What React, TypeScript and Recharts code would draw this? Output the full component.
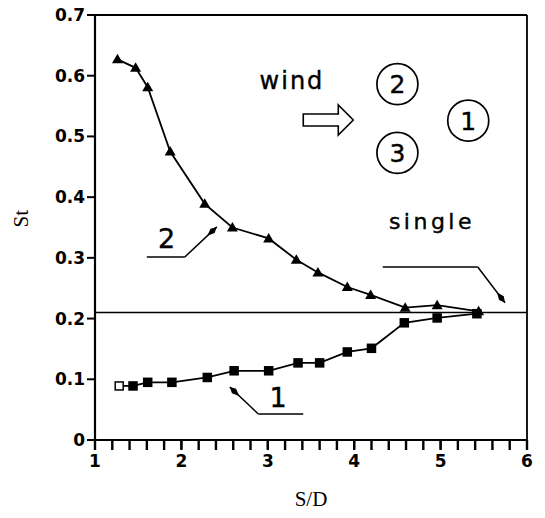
import React from 'react'
import {
  ComposedChart,
  Scatter,
  XAxis,
  YAxis,
  ReferenceLine,
  ReferenceDot,
} from 'recharts'

// cylinder 1 (squares) and cylinder 2 (triangles), Strouhal number vs spacing
const sd1 = [1.28, 1.44, 1.61, 1.89, 2.3, 2.61, 3.01, 3.35, 3.6, 3.92, 4.2, 4.58, 4.96, 5.42]
const st1 = [0.089, 0.089, 0.095, 0.095, 0.103, 0.114, 0.114, 0.127, 0.127, 0.145, 0.151, 0.193, 0.201, 0.208]

const sd2 = [1.26, 1.47, 1.61, 1.87, 2.27, 2.59, 3.01, 3.33, 3.58, 3.92, 4.19, 4.59, 4.96, 5.44]
const st2 = [0.627, 0.613, 0.581, 0.475, 0.389, 0.35, 0.332, 0.297, 0.276, 0.252, 0.239, 0.218, 0.222, 0.212]

const singleSt = 0.21

const xLabels = [1, 2, 3, 4, 5, 6]
const xMinor = [1, 1.2, 1.4, 1.6, 1.8, 2, 2.2, 2.4, 2.6, 2.8, 3, 3.2, 3.4, 3.6, 3.8, 4, 4.2, 4.4, 4.6, 4.8, 5, 5.2, 5.4, 5.6, 5.8, 6]
const yTicks = [0, 0.1, 0.2, 0.3, 0.4, 0.5, 0.6, 0.7]

const series1 = sd1.map((sd, i) => ({ sd, st: st1[i] }))
const series2 = sd2.map((sd, i) => ({ sd, st: st2[i] }))
const minorMarks = xMinor.map((sd) => ({ sd, st: 0 }))

const tickFont = { fontFamily: 'DejaVu Sans', fontWeight: 'bold', fontSize: 17, fill: '#000' }
const labelFont = { fontFamily: 'Liberation Serif', fontSize: 21, fill: '#000' }
const noteFont = 'DejaVu Sans'

const Triangle = (props: any) => {
  const { cx, cy } = props
  return <polygon points={`${cx},${cy - 5.5} ${cx - 5.5},${cy + 4} ${cx + 5.5},${cy + 4}`} fill="#000" />
}

const Square = (props: any) => {
  const { cx, cy, payload } = props
  const open = payload && payload.sd === sd1[0]
  return (
    <rect
      x={cx - 4}
      y={cy - 4}
      width={8}
      height={8}
      fill={open ? '#fff' : '#000'}
      stroke="#000"
      strokeWidth={1.5}
    />
  )
}

// short tick mark hanging below the x axis
const TickMark = (props: any) => {
  const { cx, cy } = props
  return <rect x={cx - 1.2} y={cy} width={2.4} height={10} fill="#000" />
}

// leader line with a spindle arrowhead at its end
const ArrowLine = (props: any) => {
  const { x1, y1, x2, y2 } = props
  const a = Math.atan2(y2 - y1, x2 - x1)
  const len = 13
  const w = 3
  const bx = x2 - len * Math.cos(a)
  const by = y2 - len * Math.sin(a)
  const mx = x2 - len * 0.45 * Math.cos(a)
  const my = y2 - len * 0.45 * Math.sin(a)
  const px = -Math.sin(a) * w
  const py = Math.cos(a) * w
  return (
    <g>
      <line x1={x1} y1={y1} x2={x2} y2={y2} stroke="#000" strokeWidth={1.5} />
      <polygon
        points={`${x2},${y2} ${mx + px},${my + py} ${bx},${by} ${mx - px},${my - py}`}
        fill="#000"
      />
    </g>
  )
}

const Plain = (props: any) => {
  const { x1, y1, x2, y2 } = props
  return <line x1={x1} y1={y1} x2={x2} y2={y2} stroke="#000" strokeWidth={1.5} />
}

const NoteText = (text: string, size: number, spacing: number) => (props: any) => (
  <text
    x={props.cx}
    y={props.cy}
    textAnchor="middle"
    fontFamily={noteFont}
    fontSize={size}
    letterSpacing={spacing}
    fill="#000"
    stroke="#000"
    strokeWidth={0.4}
  >
    {text}
  </text>
)

const NumberCircle = (text: string) => (props: any) => (
  <g>
    <circle cx={props.cx} cy={props.cy} r={20.5} fill="none" stroke="#000" strokeWidth={1.7} />
    <text
      x={props.cx}
      y={props.cy}
      dy="0.36em"
      textAnchor="middle"
      fontFamily={noteFont}
      fontSize={25}
      fill="#000"
      stroke="#000"
      strokeWidth={0.4}
    >
      {text}
    </text>
  </g>
)

const WindArrow = (props: any) => {
  const { cx, cy } = props
  const pts = [
    [cx - 25, cy - 6],
    [cx + 10, cy - 6],
    [cx + 10, cy - 15],
    [cx + 25, cy],
    [cx + 10, cy + 15],
    [cx + 10, cy + 6],
    [cx - 25, cy + 6],
  ]
  return <polygon points={pts.map((p) => p.join(',')).join(' ')} fill="#fff" stroke="#000" strokeWidth={1.6} />
}

export default function App() {
  return (
    <div style={{ width: 545, height: 518, background: '#fff' }}>
      <style>{`body{margin:0}`}</style>
      <ComposedChart width={545} height={518} margin={{ top: 15, right: 18, left: 5, bottom: 5 }}>
        <XAxis
          dataKey="sd"
          type="number"
          domain={[1, 6]}
          ticks={xLabels}
          interval={0}
          tick={tickFont}
          tickSize={9}
          tickMargin={6}
          height={73}
          axisLine={{ stroke: '#000', strokeWidth: 2.2 }}
          tickLine={{ stroke: '#000', strokeWidth: 2 }}
          label={{ value: 'S/D', position: 'insideBottom', offset: 7, style: labelFont }}
        />
        <YAxis
          dataKey="st"
          type="number"
          domain={[0, 0.7]}
          ticks={yTicks}
          interval={0}
          width={90}
          tickSize={8}
          tickMargin={2}
          tick={tickFont}
          axisLine={{ stroke: '#000', strokeWidth: 2.2 }}
          tickLine={{ stroke: '#000', strokeWidth: 2 }}
          label={{ value: 'St', angle: -90, position: 'insideLeft', offset: 16, style: labelFont }}
        />

        {/* frame: top and right edges */}
        <ReferenceLine y={0.7} stroke="#000" strokeWidth={1.8} />
        <ReferenceLine x={6} stroke="#000" strokeWidth={1.8} />

        <ReferenceLine y={singleSt} stroke="#000" strokeWidth={1.6} />

        {/* minor ticks every 0.2 along S/D */}
        <Scatter data={minorMarks} shape={TickMark} isAnimationActive={false} />

        <Scatter
          data={series2}
          shape={Triangle}
          line={{ stroke: '#000', strokeWidth: 1.8 }}
          isAnimationActive={false}
        />
        <Scatter
          data={series1}
          shape={Square}
          line={{ stroke: '#000', strokeWidth: 1.8 }}
          isAnimationActive={false}
        />

        {/* wind direction sketch */}
        <ReferenceDot x={3.28} y={0.578} r={0} shape={NoteText('wind', 24, 2)} />
        <ReferenceDot x={3.7} y={0.527} r={0} shape={WindArrow} />
        <ReferenceDot x={4.5} y={0.586} r={0} shape={NumberCircle('2')} />
        <ReferenceDot x={5.32} y={0.526} r={0} shape={NumberCircle('1')} />
        <ReferenceDot x={4.5} y={0.473} r={0} shape={NumberCircle('3')} />

        {/* single cylinder leader */}
        <ReferenceDot x={4.9} y={0.348} r={0} shape={NoteText('single', 22, 3.5)} />
        <ReferenceLine segment={[{ x: 4.33, y: 0.285 }, { x: 5.43, y: 0.285 }]} shape={Plain} />
        <ReferenceLine segment={[{ x: 5.43, y: 0.285 }, { x: 5.745, y: 0.226 }]} shape={ArrowLine} />

        {/* curve 2 leader */}
        <ReferenceDot x={1.83} y={0.316} r={0} shape={NoteText('2', 27, 0)} />
        <ReferenceLine segment={[{ x: 1.6, y: 0.3015 }, { x: 2.04, y: 0.3015 }]} shape={Plain} />
        <ReferenceLine segment={[{ x: 2.04, y: 0.3015 }, { x: 2.41, y: 0.351 }]} shape={ArrowLine} />

        {/* curve 1 leader */}
        <ReferenceDot x={3.12} y={0.054} r={0} shape={NoteText('1', 27, 0)} />
        <ReferenceLine segment={[{ x: 3.41, y: 0.0428 }, { x: 2.89, y: 0.0428 }]} shape={Plain} />
        <ReferenceLine segment={[{ x: 2.89, y: 0.0428 }, { x: 2.56, y: 0.0873 }]} shape={ArrowLine} />
      </ComposedChart>
    </div>
  )
}
